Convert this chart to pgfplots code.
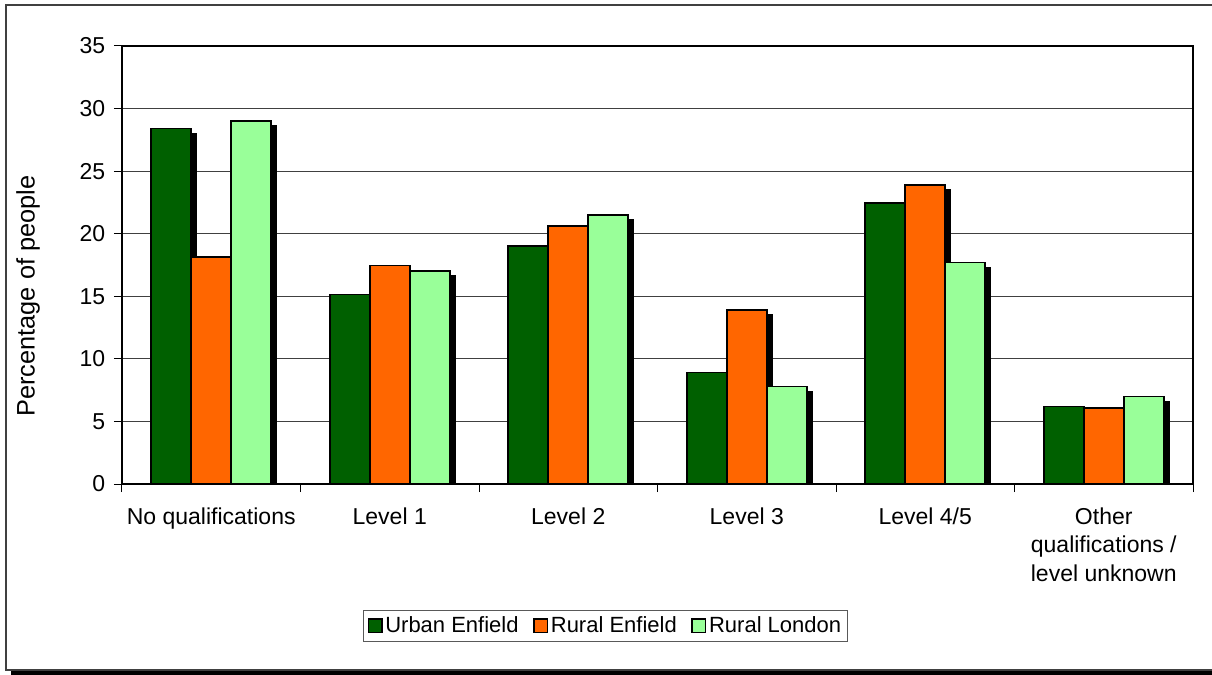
\documentclass[border=0pt]{standalone}
\usepackage{pgfplots}
\pgfplotsset{compat=1.18}
\usepackage{pgfplotstable}
\usepackage{fontspec}
\setmainfont{Liberation Sans}
\usetikzlibrary{shadows}
\definecolor{ugreen}{RGB}{0,96,0}
\definecolor{rorange}{RGB}{255,102,0}
\definecolor{lgreen}{RGB}{153,255,153}
\pgfplotstableread{
x urban rural london
0 28.4  18.15 29.0
1 15.15 17.45 17.0
2 19.0  20.6  21.5
3 8.9   13.9  7.8
4 22.45 23.9  17.7
5 6.2   6.05  7.0
}\data
\begin{document}
\begin{tikzpicture}
\useasboundingbox (-91.5pt,-142.5pt) rectangle (817.5pt,363pt);
\fill[white] (-91.5pt,-142.5pt) rectangle (817.5pt,363pt);
\draw[black!75, line width=1.2pt] (820pt,359.25pt) -- (-87pt,359.25pt) -- (-87pt,-139.5pt) -- (820pt,-139.5pt);
\fill[black] (-83.25pt,-140.6pt) rectangle (820pt,-143pt);
\begin{axis}[
  at={(0pt,0pt)}, anchor=south west,
  width=803.25pt, height=328.5pt, scale only axis,
  xmin=-0.5, xmax=5.5, ymin=0, ymax=35,
  ytick={0,5,...,35},
  xtick={-0.5,0.5,...,5.5}, xticklabels={},
  extra x ticks={0,1,2,3,4,5},
  extra x tick labels={No qualifications, Level 1, Level 2, Level 3, Level 4/5, {Other\\qualifications /\\level unknown}},
  extra x tick style={major tick length=0pt, tick label style={align=center, yshift=-14pt}},
  tick align=outside, major tick length=6pt,
  xtick pos=bottom, ytick pos=left,
  ymajorgrids, grid style={black!75, line width=0.75pt},
  axis line style={line width=1.5pt},
  tick style={black, line width=0.75pt},
  /pgf/number format/assume math mode=true,
  tick label style={font=\fontsize{17.25}{21.5}\selectfont},
  yticklabel style={xshift=-3pt},
  ylabel={Percentage of people},
  ylabel style={at={(axis description cs:-0.0878,0.429)}, anchor=center, font=\fontsize{19}{22}\selectfont},
  legend style={at={(axis description cs:0.4517,-0.324)}, anchor=center, draw=black!65, line width=0.75pt,
    font=\fontsize{16.5}{20}\selectfont, inner xsep=3pt, inner ysep=3pt,
    /tikz/every even column/.append style={column sep=9pt}},
  legend columns=3,
]
\addlegendimage{legend image code/.code={\draw[fill=ugreen, draw=black, line width=1.2pt] (-2pt,-5pt) rectangle (8pt,5pt);}}
\addlegendentry{Urban Enfield}
\addlegendimage{legend image code/.code={\draw[fill=rorange, draw=black, line width=1.2pt] (-2pt,-5pt) rectangle (8pt,5pt);}}
\addlegendentry{Rural Enfield}
\addlegendimage{legend image code/.code={\draw[fill=lgreen, draw=black, line width=1.2pt] (-2pt,-5pt) rectangle (8pt,5pt);}}
\addlegendentry{Rural London}
\addplot[ybar, bar width=30pt, bar shift=-30pt, fill=ugreen, draw=black, line width=1.2pt, forget plot,
  drop shadow={shadow xshift=3.75pt, shadow yshift=-3.75pt, fill=black, opacity=1}]
  table[x=x, y=urban] {\data};
\addplot[ybar, bar width=30pt, bar shift=0pt, fill=rorange, draw=black, line width=1.2pt, forget plot,
  drop shadow={shadow xshift=3.75pt, shadow yshift=-3.75pt, fill=black, opacity=1}]
  table[x=x, y=rural] {\data};
\addplot[ybar, bar width=30pt, bar shift=30pt, fill=lgreen, draw=black, line width=1.2pt, forget plot,
  drop shadow={shadow xshift=3.75pt, shadow yshift=-3.75pt, fill=black, opacity=1}]
  table[x=x, y=london] {\data};
\end{axis}
\end{tikzpicture}
\end{document}
